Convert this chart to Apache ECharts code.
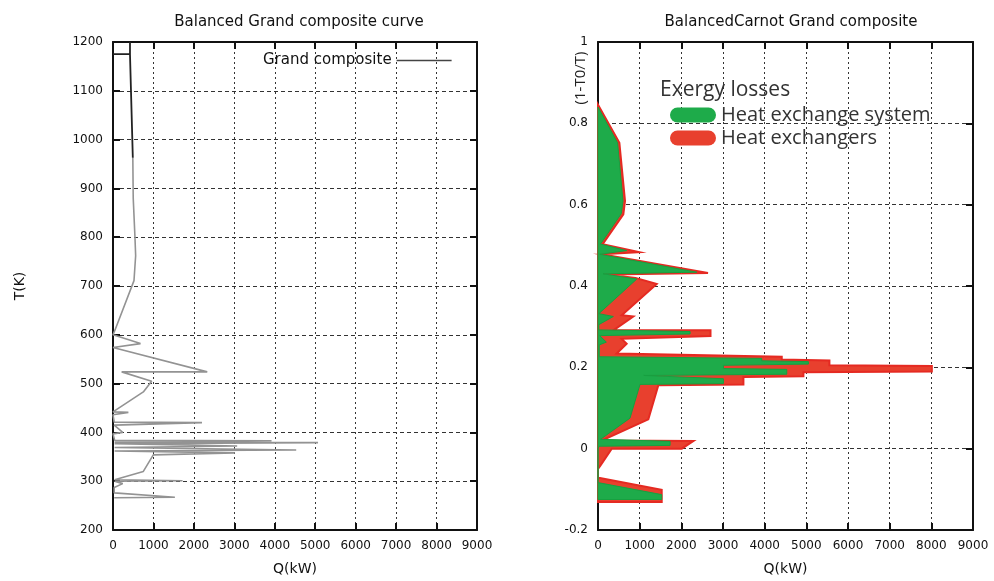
<!DOCTYPE html>
<html>
<head>
<meta charset="utf-8">
<script src="https://cdn.jsdelivr.net/npm/echarts@6/dist/echarts.min.js"></script>
<style>
  html, body { margin: 0; padding: 0; background: #fff; }
  #chart { width: 994px; height: 581px; }
</style>
</head>
<body>
<div id="chart"></div>
<script>
// left chart: grand composite curve, [Q (kW), T (K)]
const gcTop = [[0, 1175], [420, 1175], [420, 1200], [420, 1175], [490, 963]];
const gcCurve = [
  [490, 963], [500, 880], [543, 800], [560, 762], [519, 711], [50, 610], [0, 600],
  [680, 582], [0, 574], [2330, 524], [214, 524], [955, 505], [750, 483], [0, 442],
  [380, 441], [0, 436], [30, 421], [2200, 420], [2200, 416], [30, 415], [240, 400],
  [0, 397], [40, 384], [3920, 383], [3920, 380], [40, 380], [5070, 379], [40, 377],
  [40, 373], [3070, 372], [3070, 369], [40, 369], [4530, 364], [40, 362], [3010, 358],
  [3010, 355], [996, 354], [750, 320], [40, 303], [1720, 301], [40, 300], [240, 295],
  [30, 287], [30, 276], [1530, 267], [30, 266]
];

// right chart: carnot grand composite, [Q (kW), 1-T0/T]
const hxExchangers = [
  [0, 0.846], [513, 0.752], [648, 0.609], [608, 0.576], [112, 0.503], [993, 0.483],
  [90, 0.478], [2640, 0.432], [220, 0.428], [900, 0.420], [1409, 0.405], [569, 0.328],
  [848, 0.325], [368, 0.291], [2700, 0.291], [2700, 0.277], [569, 0.270], [688, 0.258],
  [448, 0.234], [4410, 0.226], [4410, 0.219], [5554, 0.217], [5554, 0.205], [8012, 0.203],
  [8012, 0.190], [4930, 0.188], [4930, 0.178], [3490, 0.176], [3490, 0.158], [1448, 0.156],
  [1208, 0.072], [88, 0.020], [2290, 0.019], [2010, 0.0], [330, 0.0], [48, -0.043],
  [0, -0.05], [0, -0.072], [48, -0.072], [1529, -0.101], [1529, -0.131], [0, -0.131]
];
const hxSystem = [
  [0, 0.84], [470, 0.752], [600, 0.609], [560, 0.578], [60, 0.503], [690, 0.487],
  [40, 0.478], [2370, 0.434], [120, 0.430], [930, 0.417], [20, 0.332], [368, 0.325],
  [20, 0.305], [20, 0.292], [2210, 0.288], [2210, 0.282], [40, 0.278], [200, 0.262],
  [30, 0.255], [30, 0.226], [3930, 0.222], [3930, 0.216], [5050, 0.214], [5050, 0.208],
  [3010, 0.205], [3010, 0.197], [4530, 0.195], [4530, 0.183], [1100, 0.180], [3010, 0.172],
  [3010, 0.160], [1008, 0.158], [768, 0.075], [60, 0.023], [1730, 0.018], [1730, 0.008],
  [30, 0.006], [0, 0.0], [0, -0.084], [30, -0.084], [1529, -0.113], [1529, -0.125], [0, -0.125]
];

const qTicks = [0, 9000, 1000];
const tTicks = [200, 1200, 100];
const cTicks = [-0.2, 1, 0.2];

const FONT = 'DejaVu Sans';
const pill = 'path://M7.5,0 L38.5,0 A7.5,7.5 0 0 1 38.5,15 L7.5,15 A7.5,7.5 0 0 1 7.5,0 Z';

function plain(v) { return String(Math.round(v * 10) / 10); }

function mainAxis(grid, range, pos, name, gap, dash) {
  return {
    type: 'value', gridIndex: grid, position: pos,
    min: range[0], max: range[1], interval: range[2],
    name: name, nameLocation: 'middle', nameGap: gap,
    nameTextStyle: { fontFamily: FONT, fontSize: 14, color: '#111' },
    axisLine: { show: true, onZero: false, lineStyle: { color: '#111', width: 2 } },
    axisTick: { show: true, inside: true, length: 7, lineStyle: { color: '#111', width: 2 } },
    axisLabel: { fontFamily: FONT, fontSize: 12, color: '#111', margin: 10, formatter: plain },
    splitLine: { show: true, lineStyle: { color: '#333', width: 1, type: dash } }
  };
}
function mirrorAxis(grid, range, pos) {
  return {
    type: 'value', gridIndex: grid, position: pos,
    min: range[0], max: range[1], interval: range[2],
    axisLine: { show: true, onZero: false, lineStyle: { color: '#111', width: 2 } },
    axisTick: { show: true, inside: true, length: 7, lineStyle: { color: '#111', width: 2 } },
    axisLabel: { show: false },
    splitLine: { show: false }
  };
}
function polygonOf(pts, fill, stroke, lw) {
  return function (params, api) {
    if (params.dataIndex !== 0) return null;
    return {
      type: 'polygon',
      shape: { points: pts.map(function (p) { return api.coord(p); }) },
      style: { fill: fill, stroke: stroke, lineWidth: lw }
    };
  };
}

const chart = echarts.init(document.getElementById('chart'), null, { renderer: 'canvas' });

chart.setOption({
  animation: false,
  backgroundColor: '#fff',
  title: [
    { text: 'Balanced Grand composite curve', left: 294, top: 10, textAlign: 'center',
      textStyle: { fontFamily: FONT, fontSize: 15, fontWeight: 'normal', color: '#111' } },
    { text: 'BalancedCarnot Grand composite', left: 786, top: 10, textAlign: 'center',
      textStyle: { fontFamily: FONT, fontSize: 15, fontWeight: 'normal', color: '#111' } },
    { text: 'Exergy losses', left: 655, top: 75,
      textStyle: { fontFamily: 'Open Sans', fontSize: 21, fontWeight: 'normal', color: '#333' } }
  ],
  graphic: [
    { type: 'text', x: 581, y: 78, rotation: Math.PI / 2,
      style: { text: '(1-T0/T)', fontFamily: 'Open Sans', fontSize: 15, fill: '#222',
        align: 'center', verticalAlign: 'middle' } }
  ],
  legend: [
    { data: [{ name: 'Grand composite', icon: 'rect' }], left: 258, top: 48, align: 'right',
      itemWidth: 55, itemHeight: 1.5, itemStyle: { color: '#444' },
      textStyle: { fontFamily: FONT, fontSize: 15, color: '#111' } },
    { data: ['Heat exchange system', 'Heat exchangers'], left: 665, top: 100,
      orient: 'vertical', icon: pill, itemWidth: 46, itemHeight: 15, itemGap: 3,
      textStyle: { fontFamily: 'Open Sans', fontSize: 20, color: '#333' } }
  ],
  grid: [
    { left: 113, right: 517, top: 42, bottom: 48 },
    { left: 598, right: 21, top: 42, bottom: 49 }
  ],
  xAxis: [
    mainAxis(0, qTicks, 'bottom', 'Q(kW)', 32, [2, 3]),
    mirrorAxis(0, qTicks, 'top'),
    mainAxis(1, qTicks, 'bottom', 'Q(kW)', 32, [2, 3]),
    mirrorAxis(1, qTicks, 'top')
  ],
  yAxis: [
    mainAxis(0, tTicks, 'left', 'T(K)', 86, [4, 3]),
    mirrorAxis(0, tTicks, 'right'),
    mainAxis(1, cTicks, 'left', '', 30, [4, 3]),
    mirrorAxis(1, cTicks, 'right')
  ],
  series: [
    { name: 'Grand composite', type: 'line', xAxisIndex: 0, yAxisIndex: 0,
      data: gcCurve, symbol: 'none', lineStyle: { color: '#939393', width: 1.6 },
      itemStyle: { color: '#444' } },
    { name: 'top', type: 'line', xAxisIndex: 0, yAxisIndex: 0,
      data: gcTop, symbol: 'none', lineStyle: { color: '#222', width: 1.8 } },
    { name: 'Heat exchangers', type: 'custom', xAxisIndex: 2, yAxisIndex: 2,
      data: hxExchangers, itemStyle: { color: '#e8402e' },
      renderItem: polygonOf(hxExchangers, '#e8402e', '#e52a22', 2) },
    { name: 'Heat exchange system', type: 'custom', xAxisIndex: 2, yAxisIndex: 2,
      data: hxSystem, itemStyle: { color: '#1eab4a' },
      renderItem: polygonOf(hxSystem, '#1eab4a', '#17a040', 1) }
  ]
});
</script>
</body>
</html>
